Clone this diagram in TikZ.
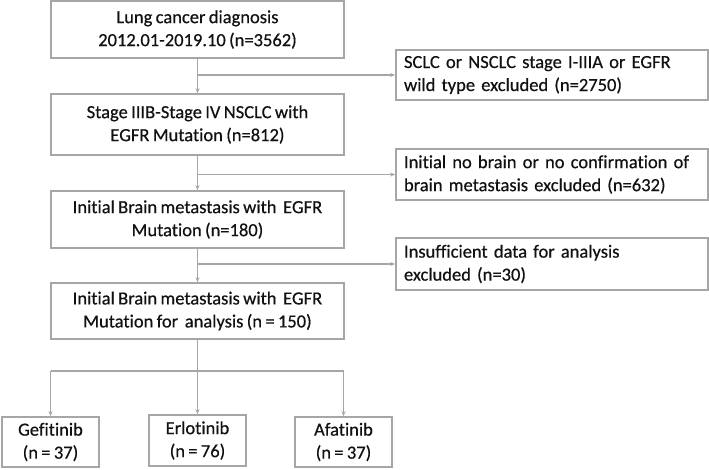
\documentclass[tikz,border=0pt]{standalone}
\usepackage{fontspec}
\setmainfont{Carlito}[WordSpace=0.8, FakeBold=0.5, Ligatures=NoCommon]
\usetikzlibrary{arrows.meta}
\definecolor{boxgray}{HTML}{A6A6A6}
\definecolor{txt}{HTML}{111111}
\tikzset{
  box/.style={draw=boxgray, line width=1.6pt, rectangle, inner sep=0pt, text=txt,
    font=\fontsize{18.5}{23}\selectfont, align=center},
  sidebox/.style={box, align=left, text width=296pt},
  arr/.style={draw=boxgray, line width=1.6pt, -{Stealth[length=5pt,width=4pt]}},
  ln/.style={draw=boxgray, line width=1.6pt}
}
\begin{document}
\begin{tikzpicture}[x=1pt,y=-1pt]
\useasboundingbox (0,0) rectangle (709,470);
\node[box, minimum width=293pt, minimum height=57pt] (b1) at (197.5,29.5) {Lung cancer diagnosis\\2012.01-2019.10 (n=3562)};
\node[box, minimum width=293pt, minimum height=61pt] (b2) at (197.5,124.5) {Stage IIIB-Stage IV NSCLC with\\EGFR Mutation (n=812)};
\node[box, minimum width=293pt, minimum height=57pt] (b3) at (197.5,219.5) {Initial Brain metastasis with\ \ EGFR\\Mutation (n=180)};
\node[box, minimum width=293pt, minimum height=56pt] (b4) at (197.5,311) {Initial Brain metastasis with\ \ EGFR\\Mutation for\ \ analysis (n = 150)};
\node[sidebox, minimum width=312pt, minimum height=50pt] (r1) at (552,75) {SCLC or NSCLC stage I-IIIA or EGFR\\wild type excluded (n=2750)};
\node[sidebox, minimum width=312pt, minimum height=51pt] (r2) at (552,174.5) {Initial no brain or no confirmation of\\brain metastasis excluded (n=632)};
\node[sidebox, minimum width=312pt, minimum height=52pt] (r3) at (552,264) {Insufficient\ data for analysis\\excluded (n=30)};
\node[box, minimum width=97pt, minimum height=50pt] (g) at (50.5,442) {Gefitinib\\(n = 37)};
\node[box, minimum width=97pt, minimum height=51pt] (e) at (197.5,440.5) {Erlotinib\\(n = 76)};
\node[box, minimum width=97pt, minimum height=50pt] (a) at (343.5,442) {Afatinib\\(n = 37)};
\draw[arr] (b1) -- (b2);
\draw[arr] (b1.south |- r1.west) -- (r1.west);
\draw[arr] (b2) -- (b3);
\draw[arr] (b2.south |- r2.west) -- (r2.west);
\draw[arr] (b3) -- (b4);
\draw[arr] (b3.south |- r3.west) -- (r3.west);
\coordinate (split) at (197.5,371);
\draw[ln] (b4.south) -- (split);
\draw[ln] (g.north |- split) -- (a.north |- split);
\draw[arr] (g.north |- split) -- (g.north);
\draw[arr] (split) -- (e.north);
\draw[arr] (a.north |- split) -- (a.north);
\end{tikzpicture}
\end{document}
